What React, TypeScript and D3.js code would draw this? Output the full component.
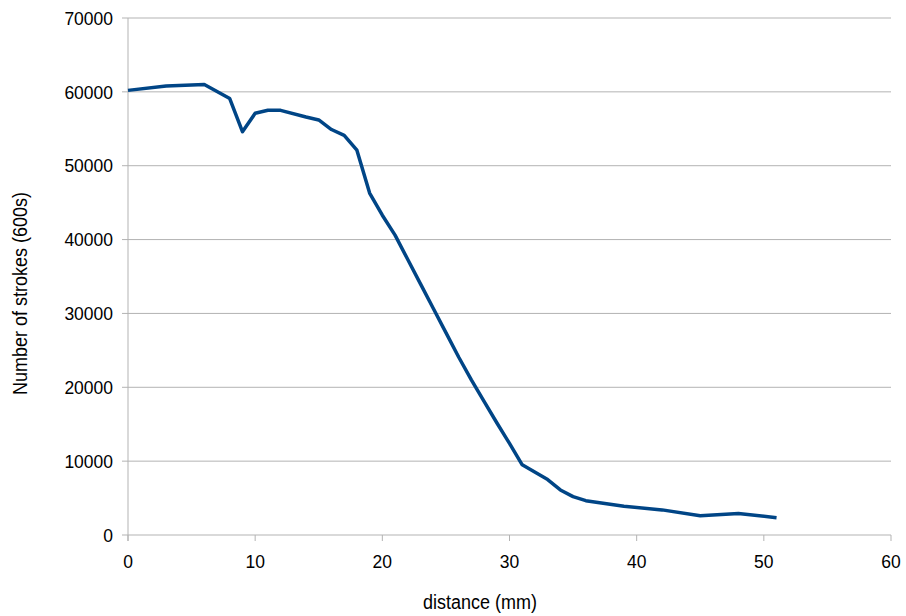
import React from "react";
import * as d3 from "d3";

const distance = [0, 3, 6, 8, 9, 10, 11, 12, 14, 15, 16, 17, 18, 19, 20, 21, 22, 23, 24, 25, 26, 27, 28, 29, 30, 31, 33, 34, 35, 36, 39, 42, 45, 48, 51];
const strokes = [60200, 60800, 61000, 59100, 54600, 57100, 57500, 57500, 56600, 56200, 54900, 54100, 52100, 46300, 43300, 40600, 37300, 34000, 30700, 27400, 24100, 21000, 18100, 15200, 12400, 9500, 7500, 6100, 5200, 4650, 3900, 3400, 2600, 2900, 2350];
const xTicks = [0, 10, 20, 30, 40, 50, 60];
const yTicks = [0, 10000, 20000, 30000, 40000, 50000, 60000, 70000];

export default function App() {
  const W = 906, H = 616;
  const left = 128, right = 891, top = 18, bottom = 535;
  const x = d3.scaleLinear().domain([0, 60]).range([left, right]);
  const y = d3.scaleLinear().domain([0, 70000]).range([bottom, top]);
  const pts: [number, number][] = distance.map((d, i) => [d, strokes[i]]);
  const line = d3.line<[number, number]>().x(d => x(d[0])).y(d => y(d[1]));
  const font = "'Liberation Sans', Arial, sans-serif";
  const sy = 1.1;
  return (
    <svg width={W} height={H} style={{ position: "absolute", left: 0, top: 0, background: "#fff" }} fontFamily={font}>
      {yTicks.map(t => (
        <g key={t}>
          <line x1={left - 6} x2={right} y1={y(t)} y2={y(t)} stroke="#b3b3b3" strokeWidth={1} />
          <text transform={`translate(${left - 15},${y(t)}) scale(1,${sy})`} dy="0.35em" textAnchor="end" fontSize={17.5} fill="#000">{t}</text>
        </g>
      ))}
      <line x1={left} x2={left} y1={top} y2={bottom + 6} stroke="#b3b3b3" strokeWidth={1} />
      {xTicks.map(t => (
        <g key={t}>
          <line x1={x(t)} x2={x(t)} y1={bottom} y2={bottom + 6} stroke="#b3b3b3" strokeWidth={1} />
          <text transform={`translate(${x(t)},${bottom + 33}) scale(1,${sy})`} textAnchor="middle" fontSize={17.5} fill="#000">{t}</text>
        </g>
      ))}
      <path d={line(pts) || ""} fill="none" stroke="#004586" strokeWidth={3.5} strokeLinejoin="round" />
      <text transform={`translate(480,609) scale(1,${sy})`} textAnchor="middle" fontSize={18} fill="#000">distance (mm)</text>
      <text transform={`translate(27,${(top + bottom) / 2 + 17}) rotate(-90) scale(1,${sy})`} textAnchor="middle" fontSize={18} fill="#000">Number of strokes (600s)</text>
    </svg>
  );
}
